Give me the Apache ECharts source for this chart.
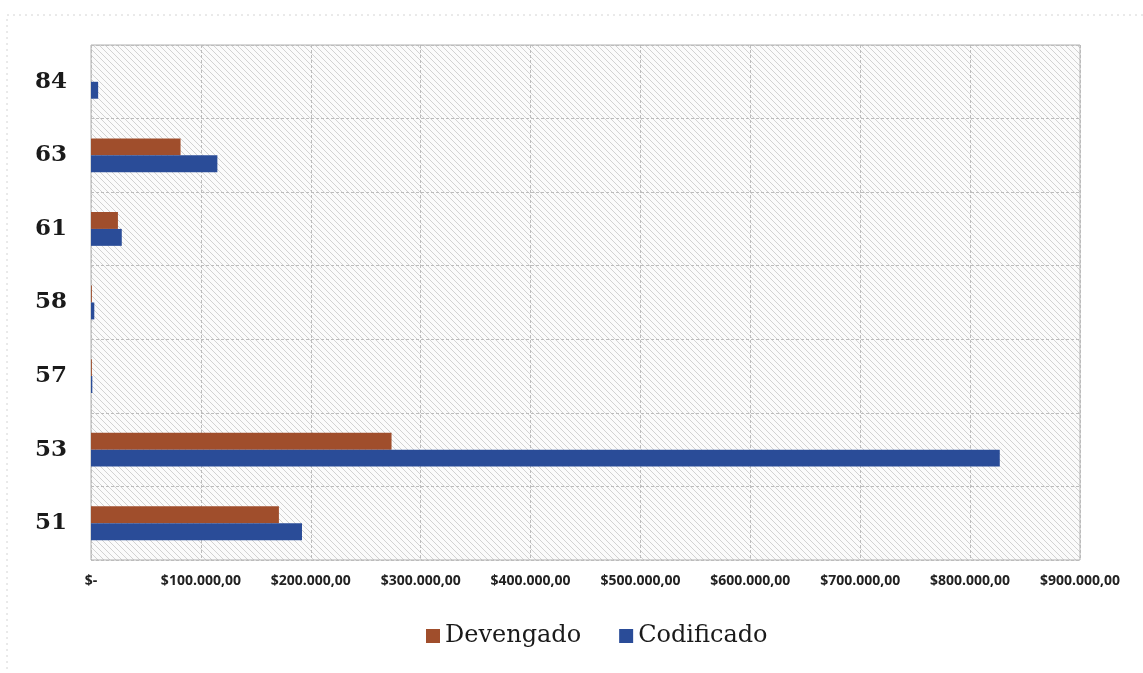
<!DOCTYPE html>
<html>
<head>
<meta charset="utf-8">
<script src="https://cdn.jsdelivr.net/npm/echarts@6/dist/echarts.min.js"></script>
<style>
html,body{margin:0;padding:0;background:#fff;}
#chart{width:1143px;height:673px;}
</style>
</head>
<body>
<div id="chart"></div>
<script>
var categories = ['51', '53', '57', '58', '61', '63', '84'];
var devengado = [171000, 273500, 800, 800, 24500, 81500, 0];
var codificado = [192000, 827000, 1200, 3000, 28000, 115000, 6500];
var xTicks = [0, 100000, 200000, 300000, 400000, 500000, 600000, 700000, 800000, 900000];

function fmtMoney(v) {
  if (v === 0) return '$-';
  var s = String(Math.round(v)).replace(/\B(?=(\d{3})+(?!\d))/g, '.');
  return '$' + s + ',00';
}

var pat = document.createElement('canvas');
pat.width = 6; pat.height = 6;
var pc = pat.getContext('2d');
pc.fillStyle = '#fbfbfb';
pc.fillRect(0, 0, 6, 6);
pc.strokeStyle = '#d2d2d2';
pc.lineWidth = 1;
pc.beginPath();
pc.moveTo(-1, -1); pc.lineTo(7, 7);
pc.stroke();

var chart = echarts.init(document.getElementById('chart'));
chart.setOption({
  backgroundColor: '#ffffff',
  animation: false,
  graphic: [{
    type: 'rect',
    shape: { x: 7, y: 15, width: 1150, height: 680 },
    style: { fill: 'none', stroke: '#d4d4d4', lineWidth: 1, lineDash: [2, 4] },
    silent: true
  }],
  grid: {
    left: 91, right: 63, top: 45, bottom: 113,
    show: true,
    backgroundColor: { image: pat, repeat: 'repeat' },
    borderColor: '#b0b0b0',
    borderWidth: 1
  },
  legend: {
    data: ['Devengado', 'Codificado'],
    bottom: 20,
    left: 421,
    icon: 'rect',
    itemWidth: 14,
    itemHeight: 14,
    itemGap: 38,
    textStyle: { fontFamily: 'DejaVu Serif', fontSize: 24, color: '#1a1a1a' }
  },
  xAxis: {
    type: 'value',
    min: 0,
    max: 900000,
    interval: 100000,
    axisLine: { show: false },
    axisTick: { show: false },
    splitLine: { show: true, lineStyle: { color: '#bcbcbc', type: [3, 2], width: 1 } },
    axisLabel: {
      margin: 14,
      fontFamily: 'Open Sans',
      fontWeight: 'bold',
      fontSize: 14,
      color: '#222',
      formatter: function (v) { return fmtMoney(v); }
    }
  },
  yAxis: {
    type: 'category',
    data: categories,
    axisLine: { show: false },
    axisTick: { show: false },
    splitLine: { show: true, lineStyle: { color: '#bcbcbc', type: [3, 2], width: 1 } },
    axisLabel: {
      margin: 24,
      fontFamily: 'DejaVu Serif',
      fontWeight: 'bold',
      fontSize: 23,
      color: '#1a1a1a'
    }
  },
  series: [
    {
      name: 'Devengado',
      type: 'bar',
      data: devengado,
      barCategoryGap: '54%',
      barGap: '0%',
      itemStyle: { color: '#a04e2c' }
    },
    {
      name: 'Codificado',
      type: 'bar',
      data: codificado,
      barCategoryGap: '54%',
      barGap: '0%',
      itemStyle: { color: '#2a4c98' }
    }
  ]
});
</script>
</body>
</html>
